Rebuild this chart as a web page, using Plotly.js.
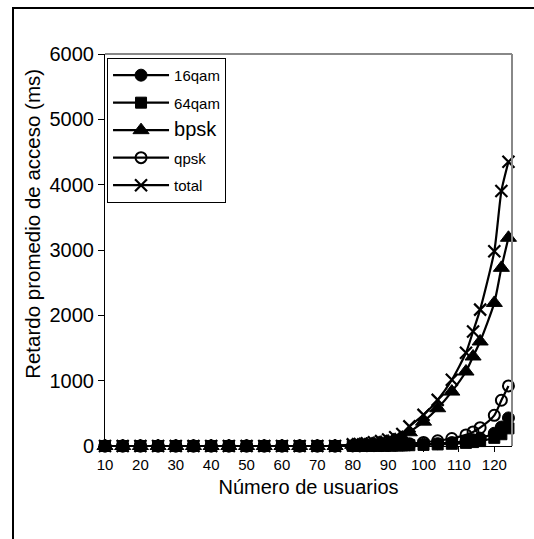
<!DOCTYPE html>
<html>
<head>
<meta charset="utf-8">
<script src="https://cdn.plot.ly/plotly-3.0.1.min.js"></script>
<style>
html,body{margin:0;padding:0;background:#fff;}
#frame{position:absolute;left:12px;top:7px;width:600px;height:600px;border-top:2px solid #000;border-left:2px solid #000;}
#chart{position:absolute;left:0;top:0;width:534px;height:539px;}
</style>
</head>
<body>
<div id="frame"></div>
<div id="chart"></div>
<script>
const usuarios = [10,15,20,25,30,35,40,45,50,55,60,65,70,75,80,82,84,86,88,90,92,94,96,100,104,108,112,114,116,120,122,124];
const qam16 = [0,0,0,0,0,0,0,0,0,0,0,0,0,0,2,3,4,5,6,8,10,13,18,26,36,52,75,95,120,195,290,430];
const qam64 = [0,0,0,0,0,0,0,0,0,0,0,0,0,0,1,2,2,3,4,5,7,9,12,17,24,34,48,60,75,125,180,270];
const bpsk  = [0,0,0,0,0,0,0,0,0,0,0,0,0,0,18,23,30,40,53,70,95,130,210,373,578,833,1140,1370,1600,2190,2727,3187];
const qpsk  = [0,0,0,0,0,0,0,0,0,0,0,0,0,0,4,5,6,8,10,13,17,22,36,55,80,115,170,215,280,470,700,920];
const total = [0,0,0,0,0,0,0,0,0,0,0,0,0,0,25,32,42,56,75,100,135,185,300,476,706,1013,1427,1754,2087,2981,3902,4350];
const seriesNames = ['16qam','64qam','bpsk','qpsk','total'];
const yTicks = [0,1000,2000,3000,4000,5000,6000];
const xTicks = [10,20,30,40,50,60,70,80,90,100,110,120];

function tr(y, name, sym, size, lw, fill, grp){
  return {x: usuarios, y: y, name: name, type:'scatter', mode:'lines+markers',
    legendgroup: grp,
    line:{color:'#000', width:2.2, shape:'spline', smoothing:0.6},
    marker:{symbol: sym, size: size, color: fill, line:{color:'#000', width: lw}},
    cliponaxis:false};
}
const data = [
  tr(qam16, seriesNames[0], 'circle', 12, 1, '#000', 'a'),
  tr(qam64, seriesNames[1], 'square', 11, 1, '#000', 'b'),
  tr(bpsk, '<span style="font-size:20px">'+seriesNames[2]+'</span>', 'triangle-up', 14, 1, '#000', 'c'),
  tr(qpsk, seriesNames[3], 'circle-open', 11, 2, '#000', 'd'),
  tr(total, seriesNames[4], 'x-thin-open', 12, 2.2, '#000', 'e')
];
const layout = {
  width:534, height:539,
  margin:{l:105, r:22, t:54, b:93},
  paper_bgcolor:'rgba(0,0,0,0)', plot_bgcolor:'#fff',
  font:{family:'Arial, Liberation Sans, sans-serif', color:'#000'},
  showlegend:true,
  legend:{x:0.005, y:0.99, xanchor:'left', yanchor:'top', bgcolor:'#fff', bordercolor:'#000', borderwidth:1,
    font:{size:15, color:'#000'}, tracegroupgap:5, traceorder:'grouped', itemwidth:56},
  xaxis:{range:[10,125], tickvals:xTicks, ticktext:xTicks.map(String), ticks:'outside', ticklen:5, tickcolor:'#000',
    showline:true, linecolor:'#000', linewidth:1, showgrid:false, zeroline:false,
    tickfont:{size:15}, title:{text:'Número de usuarios', font:{size:20}, standoff:7}},
  yaxis:{range:[0,6000], tickvals:yTicks, ticktext:yTicks.map(String), ticks:'outside', ticklen:6, tickcolor:'#000',
    showline:true, linecolor:'#000', linewidth:1, showgrid:false, zeroline:false,
    tickfont:{size:20}},
  annotations:[{text:'Retardo promedio de acceso (ms)', textangle:-90, xref:'paper', yref:'paper',
    x:-0.18, y:0.566, xanchor:'center', yanchor:'middle', showarrow:false, font:{size:20.5}}],
  shapes:[
    {type:'line', xref:'paper', yref:'paper', x0:0, x1:1, y0:1, y1:1, line:{color:'#888', width:2}},
    {type:'line', xref:'paper', yref:'paper', x0:1, x1:1, y0:0, y1:1, line:{color:'#888', width:2}}
  ]
};
Plotly.newPlot('chart', data, layout, {displayModeBar:false, staticPlot:true});
</script>
</body>
</html>
